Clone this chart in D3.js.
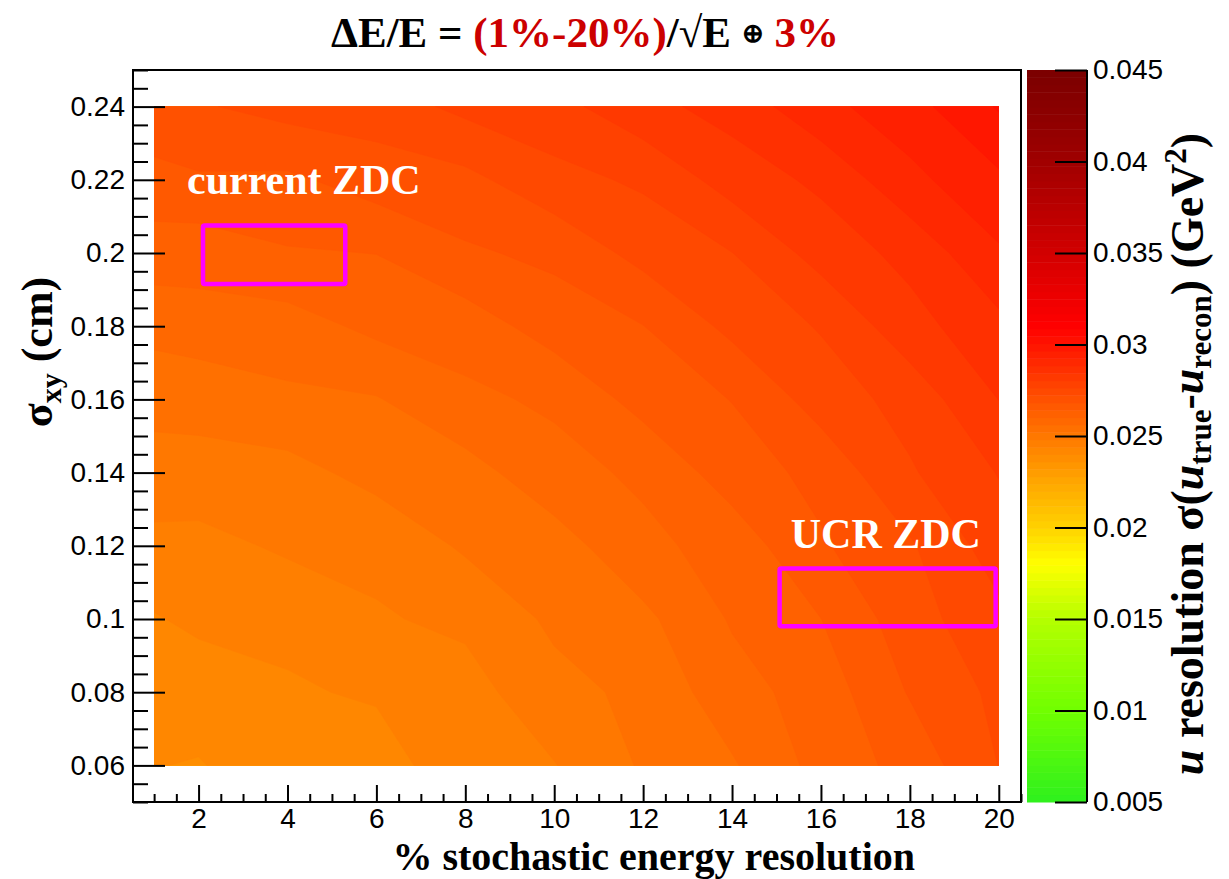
<!DOCTYPE html>
<html>
<head>
<meta charset="utf-8">
<script src="https://cdn.jsdelivr.net/npm/d3@7"></script>
<style>
  body { margin: 0; background: #fff; }
  svg text { font-family: 'Liberation Serif', 'Times New Roman', serif; }
  .axis text { font-family: 'Liberation Sans', Arial, Helvetica, sans-serif; font-size: 28px; fill: #000; }
  .axis line { stroke: #000; stroke-width: 2; }
  .axis path { display: none; }
</style>
</head>
<body>
<div id="chart"></div>
<script>
// grid of the map: stochastic term (%) x position resolution sigma_xy (cm)
const stochastic = [1, 2, 4, 6, 8, 10, 12, 14, 16, 18, 20]
const sigmaXY = [0.06, 0.08, 0.1, 0.12, 0.14, 0.16, 0.18, 0.2, 0.22, 0.24]

// u resolution (GeV^2), one row per sigmaXY value
const uResolution = [
  [0.02400, 0.02397, 0.02418, 0.02425, 0.02459, 0.02478, 0.02525, 0.02556, 0.02615, 0.02656, 0.02723],
  [0.02423, 0.02414, 0.02436, 0.02443, 0.02464, 0.02507, 0.02530, 0.02585, 0.02619, 0.02685, 0.02732],
  [0.02436, 0.02449, 0.02447, 0.02476, 0.02488, 0.02528, 0.02551, 0.02605, 0.02641, 0.02705, 0.02752],
  [0.02473, 0.02465, 0.02487, 0.02490, 0.02526, 0.02543, 0.02590, 0.02618, 0.02677, 0.02717, 0.02784],
  [0.02494, 0.02508, 0.02506, 0.02534, 0.02545, 0.02586, 0.02609, 0.02661, 0.02694, 0.02758, 0.02805],
  [0.02541, 0.02532, 0.02553, 0.02558, 0.02592, 0.02608, 0.02656, 0.02683, 0.02740, 0.02778, 0.02844],
  [0.02570, 0.02584, 0.02583, 0.02611, 0.02620, 0.02660, 0.02681, 0.02733, 0.02766, 0.02828, 0.02873],
  [0.02625, 0.02617, 0.02638, 0.02642, 0.02676, 0.02691, 0.02736, 0.02762, 0.02819, 0.02856, 0.02919],
  [0.02663, 0.02677, 0.02674, 0.02701, 0.02711, 0.02750, 0.02769, 0.02821, 0.02852, 0.02913, 0.02957],
  [0.02723, 0.02718, 0.02737, 0.02742, 0.02773, 0.02789, 0.02831, 0.02859, 0.02912, 0.02949, 0.03009]
]

const xTicks = [2, 4, 6, 8, 10, 12, 14, 16, 18, 20]
const yTicks = [0.06, 0.08, 0.1, 0.12, 0.14, 0.16, 0.18, 0.2, 0.22, 0.24]
const yTickLabels = ['0.06', '0.08', '0.1', '0.12', '0.14', '0.16', '0.18', '0.2', '0.22', '0.24']
const zTicks = [0.005, 0.01, 0.015, 0.02, 0.025, 0.03, 0.035, 0.04, 0.045]
const zTickLabels = ['0.005', '0.01', '0.015', '0.02', '0.025', '0.03', '0.035', '0.04', '0.045']

// palette stops (value -> colour)
const paletteStops = [0.005, 0.01, 0.015, 0.018, 0.02, 0.0225, 0.025, 0.0275, 0.03, 0.031, 0.035, 0.04, 0.045]
const paletteColors = ['#2ef01e', '#70ff00', '#b4ff00', '#ffff00', '#ffd200', '#ffa600', '#ff7800',
  '#ff4800', '#ff1400', '#ff0000', '#d20000', '#a00000', '#7a0000']

const boxes = [
  { label: 'current ZDC', x0: 2.1, x1: 5.3, y0: 0.1915, y1: 0.2075, tx: 1.74, ty: 0.216 },
  { label: 'UCR ZDC', x0: 15.07, x1: 19.93, y0: 0.098, y1: 0.1138, tx: 15.32, ty: 0.1194 }
]

const width = 1229
const height = 879
const frame = { left: 133, top: 70, right: 1021, bottom: 802 }
const bar = { left: 1027, right: 1087 }

const svg = d3.select('#chart')
  .append('svg')
  .attr('width', width)
  .attr('height', height)

const x = d3.scaleLinear().domain([0.525, 20.5]).range([frame.left, frame.right])
const y = d3.scaleLinear().domain([0.05, 0.25]).range([frame.bottom, frame.top])
const z = d3.scaleLinear().domain([0.005, 0.045]).range([frame.bottom, frame.top])

const color = d3.scaleLinear().domain(paletteStops).range(paletteColors).interpolate(d3.interpolateRgb)

// 99 contour levels like ROOT
const nLevels = 99
const zMin = 0.005, zMax = 0.045
const step = (zMax - zMin) / nLevels
const levels = d3.range(nLevels).map(i => zMin + i * step)

// frame background
svg.append('rect')
  .attr('x', frame.left).attr('y', frame.top)
  .attr('width', frame.right - frame.left).attr('height', frame.bottom - frame.top)
  .attr('fill', '#fff')

// clip to data range
svg.append('clipPath').attr('id', 'data-clip')
  .append('rect')
  .attr('x', x(1)).attr('y', y(0.24))
  .attr('width', x(20) - x(1)).attr('height', y(0.06) - y(0.24))

const nx = stochastic.length
const ny = sigmaXY.length
const flat = [].concat(...uResolution)

const contours = d3.contours().size([nx, ny]).thresholds(levels)(flat)

// grid index -> data value (values sit at cell centres)
const colToX = d3.scaleLinear().domain(d3.range(nx)).range(stochastic)
const rowToY = d3.scaleLinear().domain(d3.range(ny)).range(sigmaXY)
const proj = d3.geoTransform({
  point: function(px, py) {
    this.stream.point(x(colToX(px - 0.5)), y(rowToY(py - 0.5)))
  }
})
const path = d3.geoPath(proj)

svg.append('g')
  .attr('clip-path', 'url(#data-clip)')
  .selectAll('path')
  .data(contours)
  .enter()
  .append('path')
  .attr('d', path)
  .attr('fill', d => color(d.value + step / 2))
  .attr('stroke', d => color(d.value + step / 2))
  .attr('stroke-width', 0.6)

// boxes and labels
boxes.forEach(b => {
  svg.append('rect')
    .attr('x', x(b.x0)).attr('y', y(b.y1))
    .attr('width', x(b.x1) - x(b.x0)).attr('height', y(b.y0) - y(b.y1))
    .attr('fill', 'none')
    .attr('stroke', '#ff00ff')
    .attr('stroke-width', 4.5)
    .attr('rx', 1.5)
  svg.append('text')
    .text(b.label)
    .attr('x', x(b.tx)).attr('y', y(b.ty))
    .attr('font-size', 42)
    .attr('font-weight', 'bold')
    .attr('fill', '#fff')
})

// frame
svg.append('rect')
  .attr('x', frame.left).attr('y', frame.top)
  .attr('width', frame.right - frame.left).attr('height', frame.bottom - frame.top)
  .attr('fill', 'none')
  .attr('stroke', '#000')
  .attr('stroke-width', 2)

/* axes */
const xMinor = d3.range(0.5, 20.51, 0.5).filter(v => v >= 0.525 && v <= 20.5 && v % 2 !== 0)
svg.append('g')
  .attr('class', 'axis x-axis')
  .attr('transform', `translate(0,${frame.bottom})`)
  .call(d3.axisBottom(x).tickValues(xTicks).tickSize(-17).tickPadding(6).tickFormat(d => d))
svg.append('g')
  .attr('class', 'axis x-minor')
  .attr('transform', `translate(0,${frame.bottom})`)
  .call(d3.axisBottom(x).tickValues(xMinor).tickSize(-8).tickFormat(''))

const yMinor = d3.range(0, 41).map(i => 0.05 + i * 0.005).filter(v => !yTicks.some(t => Math.abs(t - v) < 1e-6))
svg.append('g')
  .attr('class', 'axis y-axis')
  .attr('transform', `translate(${frame.left},0)`)
  .call(d3.axisLeft(y).tickValues(yTicks).tickSize(-32).tickPadding(8)
    .tickFormat((d, i) => yTickLabels[i]))
svg.append('g')
  .attr('class', 'axis y-minor')
  .attr('transform', `translate(${frame.left},0)`)
  .call(d3.axisLeft(y).tickValues(yMinor).tickSize(-15).tickFormat(''))

/* colour bar */
svg.append('g')
  .selectAll('rect')
  .data(levels)
  .enter()
  .append('rect')
  .attr('x', bar.left)
  .attr('width', bar.right - bar.left)
  .attr('y', d => z(d + step))
  .attr('height', d => z(d) - z(d + step) + 0.5)
  .attr('fill', d => color(d + step / 2))

svg.append('g')
  .attr('class', 'axis z-axis')
  .attr('transform', `translate(${bar.right},0)`)
  .call(d3.axisRight(z).tickValues(zTicks).tickSize(-32).tickPadding(6)
    .tickFormat((d, i) => zTickLabels[i]))
svg.append('line')
  .attr('x1', bar.right).attr('x2', bar.right)
  .attr('y1', frame.top).attr('y2', frame.bottom)
  .attr('stroke', '#000').attr('stroke-width', 2)

/* titles */
const title = svg.append('text')
  .attr('x', 585).attr('y', 47)
  .attr('text-anchor', 'middle')
  .attr('font-size', 43)
  .attr('font-weight', 'bold')
title.append('tspan').text('ΔE/E = ')
title.append('tspan').attr('fill', '#cc0000').text('(1%-20%)')
title.append('tspan').text('/√E ')
title.append('tspan').attr('font-size', 26).attr('dy', -5).text('⊕')
title.append('tspan').attr('fill', '#cc0000').attr('dy', 5).text(' 3%')

svg.append('text')
  .attr('x', 915).attr('y', 870)
  .attr('text-anchor', 'end')
  .attr('font-size', 40)
  .attr('font-weight', 'bold')
  .text('% stochastic energy resolution')

const yTitle = svg.append('text')
  .attr('transform', 'translate(52,352) rotate(-90)')
  .attr('text-anchor', 'middle')
  .attr('font-size', 44)
  .attr('font-weight', 'bold')
yTitle.append('tspan').text('σ')
yTitle.append('tspan').attr('font-size', 30).attr('dy', 9).text('xy')
yTitle.append('tspan').attr('dy', -9).text(' (cm)')

const zTitle = svg.append('text')
  .attr('transform', 'translate(1203,454) rotate(-90)')
  .attr('text-anchor', 'middle')
  .attr('font-size', 46)
  .attr('font-weight', 'bold')
zTitle.append('tspan').attr('font-style', 'italic').text('u')
zTitle.append('tspan').text(' resolution σ(')
zTitle.append('tspan').attr('font-style', 'italic').text('u')
zTitle.append('tspan').attr('font-size', 31).attr('dy', 8).text('true')
zTitle.append('tspan').attr('dy', -8).text('-')
zTitle.append('tspan').attr('font-style', 'italic').text('u')
zTitle.append('tspan').attr('font-size', 31).attr('dy', 8).text('recon')
zTitle.append('tspan').attr('dy', -8).text(') (GeV')
zTitle.append('tspan').attr('font-size', 31).attr('dy', -17).text('2')
zTitle.append('tspan').attr('dy', 17).text(')')
</script>
</body>
</html>
